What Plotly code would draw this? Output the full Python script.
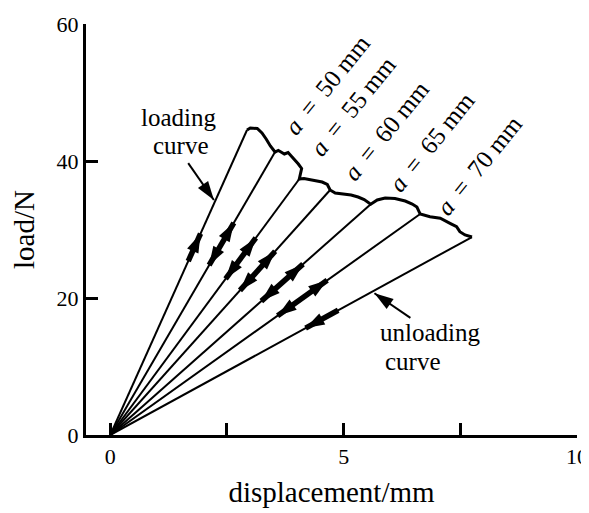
import math
import plotly.graph_objects as go

# ---------------- data ----------------
# crack-growth envelope: from the loading peak, through each kink, to the final point
envelope_x = [2.93, 3.00, 3.15, 3.25, 3.34, 3.43, 3.53, 3.60, 3.64, 3.73, 3.81, 3.90, 3.96, 4.03, 4.10,
              4.05, 4.15, 4.28, 4.41, 4.54, 4.65, 4.71, 4.82, 4.99, 5.16, 5.31, 5.44, 5.58,
              5.72, 5.89, 6.10, 6.32, 6.47, 6.57, 6.64, 6.85, 7.07, 7.28, 7.42, 7.49, 7.60, 7.75]
envelope_y = [44.53, 44.82, 44.74, 44.09, 43.21, 42.19, 41.31, 41.55, 41.39, 41.02, 41.24, 40.58, 40.00, 39.56, 38.91,
              37.37, 37.45, 37.30, 37.08, 36.93, 36.57, 35.77, 35.33, 35.18, 35.04, 34.74, 34.38, 33.70,
              34.31, 34.60, 34.53, 34.16, 33.72, 33.28, 32.26, 31.87, 31.64, 30.90, 30.41, 29.68, 29.20, 28.90]

# loading line (origin to first peak)
loading_x = [0, 2.93]
loading_y = [0, 44.53]

# unloading lines: end points on the envelope (each line runs back to the origin)
unload_x = [3.53, 4.05, 4.71, 5.58, 6.64, 7.75]
unload_y = [41.31, 37.37, 35.77, 33.70, 32.26, 28.90]

crack_lengths = [50, 55, 60, 65, 70]          # a / mm

x_tickvals = [0, 2.5, 5, 7.5, 10]
x_ticktext = ["0", "", "5", "", "10"]
y_tickvals = [0, 20, 40, 60]
y_ticktext = ["0", "20", "40", "60"]

# ---------------- layout constants ----------------
FONT = "Liberation Serif"
W, H = 581, 505                      # page body adds an 8 px offset
M = dict(l=78, r=12, t=16, b=78)
XR = [-0.52, 10]
YR = [0, 60]
PX_X = (W - M["l"] - M["r"]) / (XR[1] - XR[0])
PX_Y = (H - M["t"] - M["b"]) / (YR[1] - YR[0])

def screen_angle(dx, dy):
    """marker angle (deg clockwise from up) for a data-space direction"""
    return math.degrees(math.atan2(dx * PX_X, dy * PX_Y))

fig = go.Figure()

# loading line
fig.add_trace(go.Scatter(x=loading_x, y=loading_y, mode="lines",
                         line=dict(color="black", width=2), hoverinfo="skip"))
# unloading lines
for ux, uy in zip(unload_x, unload_y):
    fig.add_trace(go.Scatter(x=[0, ux], y=[0, uy], mode="lines",
                             line=dict(color="black", width=2), hoverinfo="skip"))
# envelope
fig.add_trace(go.Scatter(x=envelope_x, y=envelope_y, mode="lines",
                         line=dict(color="black", width=3), hoverinfo="skip"))


def line_arrow(ex, ey, f0, f1, up=True, down=False, size=20):
    # thick body
    fig.add_trace(go.Scatter(x=[ex * f0, ex * f1], y=[ey * f0, ey * f1], mode="lines",
                             line=dict(color="black", width=5.5), hoverinfo="skip"))
    ang = screen_angle(ex, ey)
    px, py, angs = [], [], []
    if up:
        px.append(ex * f1); py.append(ey * f1); angs.append(ang)
    if down:
        px.append(ex * f0); py.append(ey * f0); angs.append(ang + 180)
    fig.add_trace(go.Scatter(x=px, y=py, mode="markers", hoverinfo="skip",
                             marker=dict(symbol="arrow", size=size, angle=angs, color="black",
                                         line=dict(width=0))))


# loading arrow (pointing up)
line_arrow(loading_x[1], loading_y[1], 0.57, 0.66, up=True, down=False)
# reload / unload double arrows
fr = [(0.60, 0.75), (0.61, 0.77), (0.59, 0.75), (0.58, 0.74), (0.54, 0.70)]
for ux, uy, (a0, a1) in zip(unload_x[:5], unload_y[:5], fr):
    line_arrow(ux, uy, a0, a1, up=True, down=True)
# last unloading arrow (pointing down)
line_arrow(unload_x[5], unload_y[5], 0.54, 0.63, up=False, down=True)


def pointer(tx, ty, hx, hy, size=20):
    fig.add_trace(go.Scatter(x=[tx, hx], y=[ty, hy], mode="lines",
                             line=dict(color="black", width=2), hoverinfo="skip"))
    fig.add_trace(go.Scatter(x=[hx], y=[hy], mode="markers", hoverinfo="skip",
                             marker=dict(symbol="arrow", size=size, color="black",
                                         angle=[screen_angle(hx - tx, hy - ty)], line=dict(width=0))))


pointer(1.67, 39.7, 2.22, 34.3)      # loading-curve pointer
pointer(6.43, 17.1, 5.66, 20.7)      # unloading-curve pointer

annotations = []
label_pos = [(4.65, 51.2), (5.19, 48.0), (5.91, 44.5), (6.90, 42.8), (7.90, 39.4)]
for a, (lx, ly) in zip(crack_lengths, label_pos):
    annotations.append(dict(x=lx, y=ly, xref="x", yref="y", showarrow=False,
                            text=f"<i>a</i>\u2009 = \u2009{a} mm", textangle=-51,
                            font=dict(family=FONT, size=25, color="black")))

txt = dict(xref="x", yref="y", showarrow=False, font=dict(family=FONT, size=25, color="black"))
annotations.append(dict(x=1.46, y=46.3, text="loading", **txt))
annotations.append(dict(x=1.52, y=42.3, text="curve", **txt))
annotations.append(dict(x=5.74, y=14.9, text="unloading", xanchor="left", **txt))
annotations.append(dict(x=5.85, y=10.7, text="curve", xanchor="left", **txt))

fig.update_layout(
    width=W, height=H,
    margin=M,
    paper_bgcolor="white", plot_bgcolor="white",
    showlegend=False,
    font=dict(family=FONT, size=22, color="black"),
    annotations=annotations,
    xaxis=dict(range=XR, tickvals=x_tickvals, ticktext=x_ticktext, automargin=False,
               ticks="inside", ticklen=12, tickwidth=2.5, tickcolor="black",
               showline=True, linewidth=3, linecolor="black", showgrid=False, zeroline=False,
               tickfont=dict(family=FONT, size=22),
               title=dict(text="displacement/mm", font=dict(family=FONT, size=29), standoff=14)),
    yaxis=dict(range=YR, tickvals=y_tickvals, ticktext=y_ticktext, automargin=False,
               ticks="inside", ticklen=12, tickwidth=2.5, tickcolor="black",
               showline=True, linewidth=3, linecolor="black", showgrid=False, zeroline=False,
               tickfont=dict(family=FONT, size=22),
               title=dict(text="load/N", font=dict(family=FONT, size=29), standoff=16)),
)

fig.write_html("out.html")
